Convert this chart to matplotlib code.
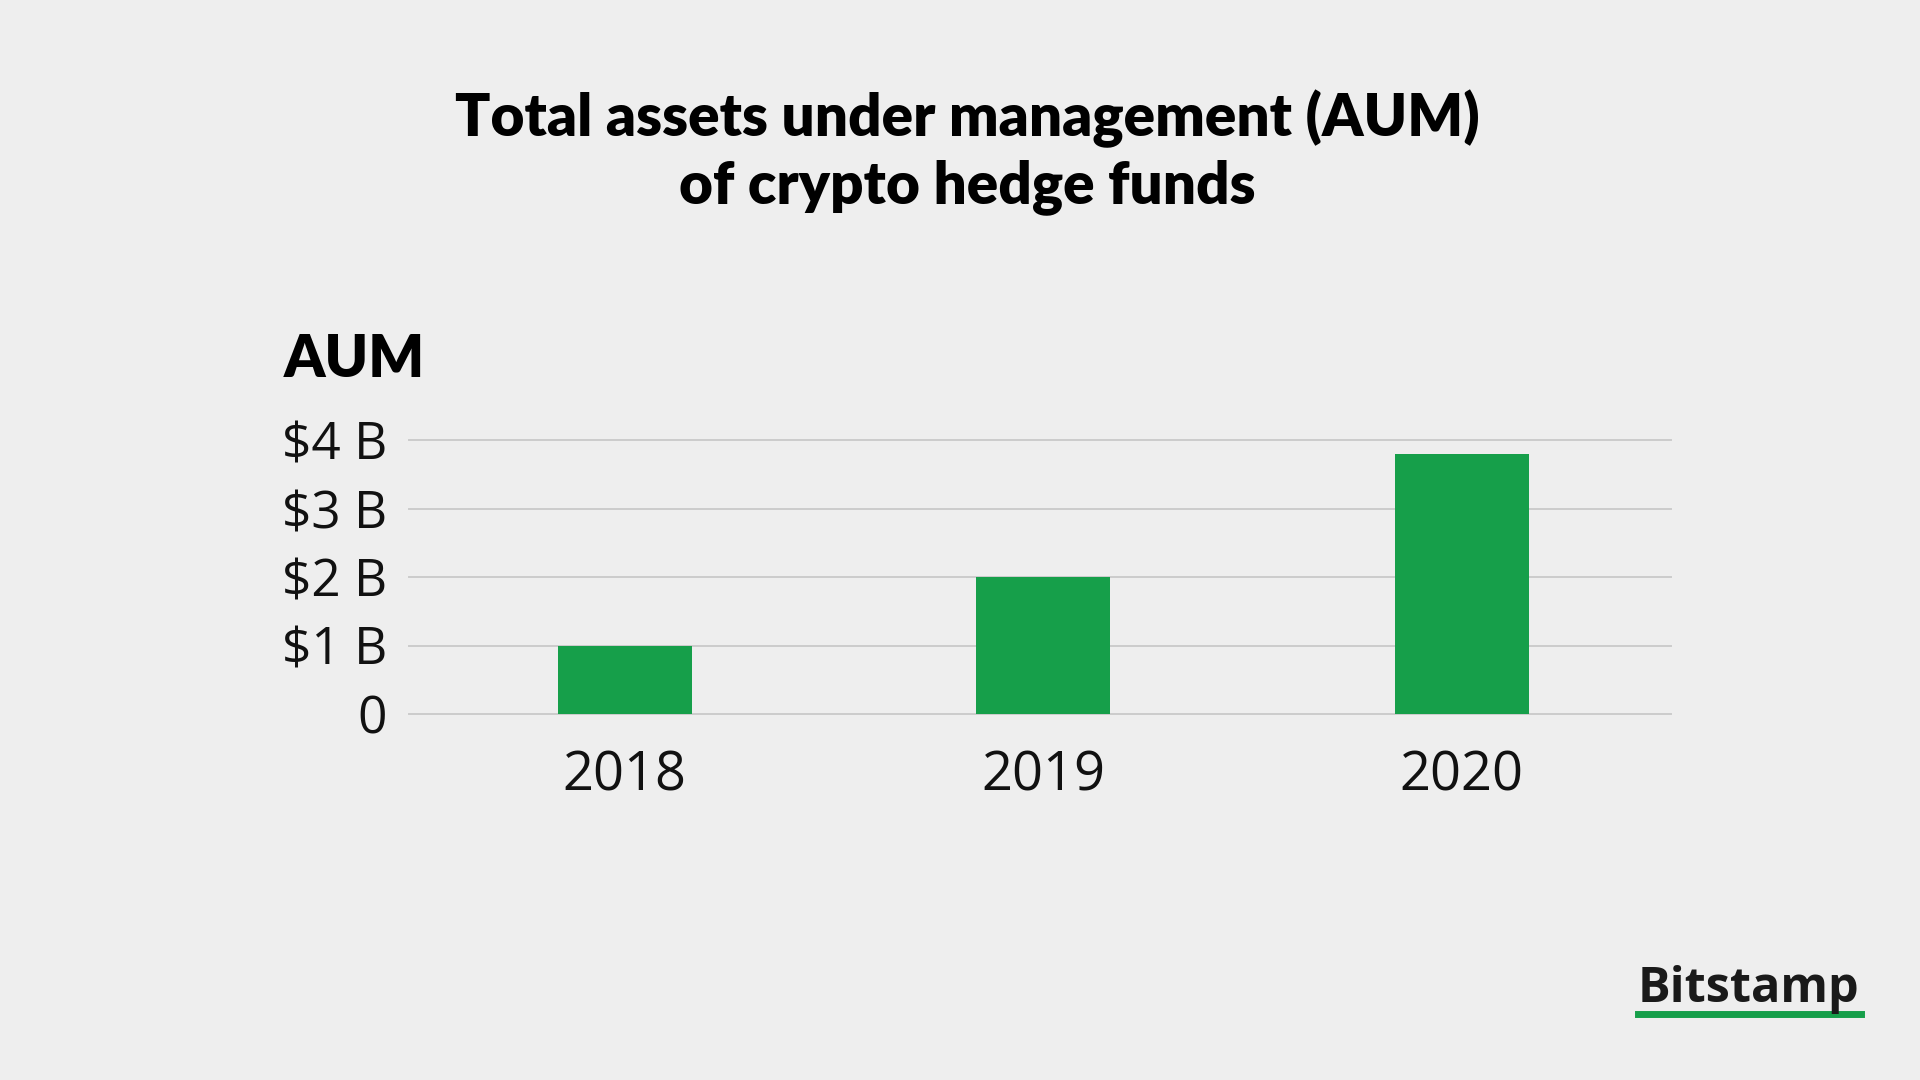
import matplotlib
matplotlib.use("Agg")
import matplotlib.pyplot as plt
from matplotlib.lines import Line2D

years = ["2018", "2019", "2020"]
aum_billions = [1.0, 2.0, 3.8]
y_ticks = [0, 1, 2, 3, 4]
y_tick_labels = ["0", "$1 B", "$2 B", "$3 B", "$4 B"]

BG = "#eeeeee"
GREEN = "#169f4a"

fig = plt.figure(figsize=(19.2, 10.8), dpi=100, facecolor=BG)
ax = fig.add_axes([409 / 1920, 1 - 714 / 1080, (1671 - 409) / 1920, (714 - 440) / 1080])
ax.set_facecolor(BG)

x = list(range(len(years)))
ax.bar(x, aum_billions, width=0.32, color=GREEN, zorder=3)
ax.set_xlim(-0.515, 2.5)
ax.set_ylim(0, 4)

for y in y_ticks:
    ax.axhline(y, color="#cccccc", lw=1.4, zorder=1, clip_on=False)

ax.set_yticks(y_ticks)
ax.set_yticklabels(y_tick_labels)
ax.set_xticks(x)
ax.set_xticklabels(years)
ax.tick_params(axis="both", length=0, labelcolor="#111111")
ax.tick_params(axis="y", pad=16, labelsize=37)
ax.tick_params(axis="x", pad=25, labelsize=39)
for lbl in ax.get_xticklabels() + ax.get_yticklabels():
    lbl.set_fontfamily("Open Sans")
for s in ax.spines.values():
    s.set_visible(False)

fig.text(967 / 1920, 1 - 119 / 1080, "Total assets under management (AUM)",
         ha="center", va="center", fontsize=42, fontweight="heavy",
         family="Lato", color="black")
fig.text(967 / 1920, 1 - 187 / 1080, "of crypto hedge funds",
         ha="center", va="center", fontsize=42, fontweight="heavy",
         family="Lato", color="black")
fig.text(284 / 1920, 1 - 359 / 1080, "AUM", ha="left", va="center",
         fontsize=42, fontweight="heavy", family="Lato", color="black")

# logo
fig.text(1749 / 1920, 1 - 990 / 1080, "Bitstamp", ha="center", va="center",
         fontsize=35, fontweight="bold", family="Open Sans", color="#1a1a1a")
fig.add_artist(Line2D([1638 / 1920, 1861 / 1920], [1 - 1014 / 1080, 1 - 1014 / 1080],
                      color=GREEN, lw=5, transform=fig.transFigure))

fig.savefig("out.png", dpi=100, facecolor=BG)
